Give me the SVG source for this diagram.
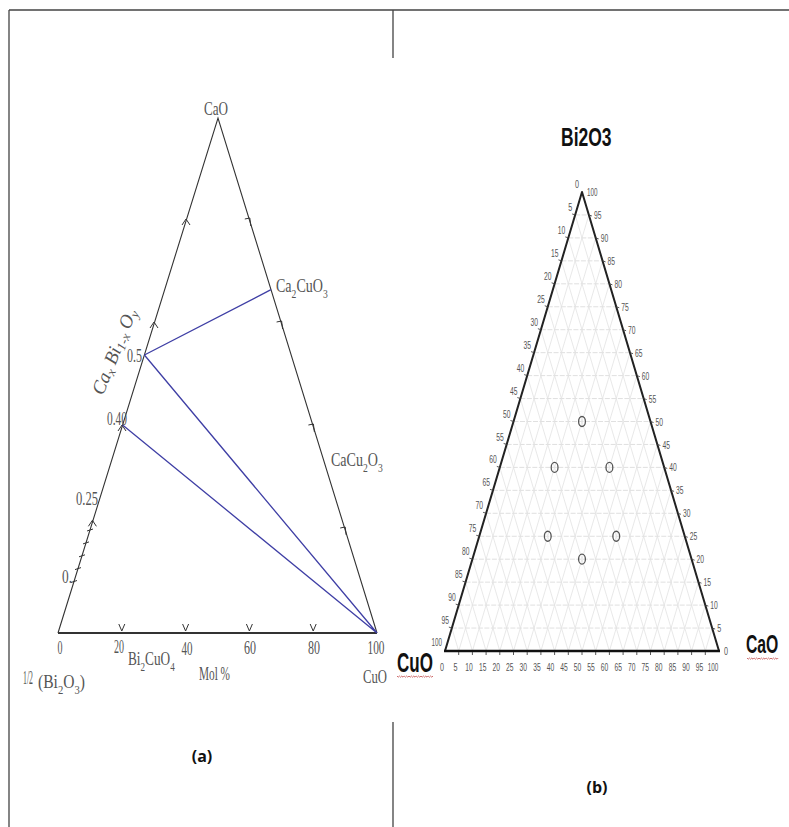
<svg xmlns="http://www.w3.org/2000/svg" width="789" height="827" viewBox="0 0 789 827">
<style>
.bd{stroke:#444;stroke-width:1.3;fill:none}
.ta{font-family:"Liberation Serif",serif;font-size:19px;fill:#555}
.tb{font-family:"Liberation Sans",Arial,sans-serif;font-size:11px;fill:#555}
.tk{stroke:#333;stroke-width:1;fill:none}
.grid{stroke:#e2e2e2;stroke-width:0.8;fill:none}
.gridh{stroke:#d8d8d8;stroke-width:0.8;fill:none;stroke-dasharray:5 1.5}
.blue{stroke:#3f3fa5;stroke-width:1.3;fill:none}
.cap{font-family:"Open Sans","Liberation Sans",sans-serif;font-size:16px;font-weight:bold;fill:#111}
.big{font-family:"Liberation Sans",Arial,sans-serif;font-weight:bold;fill:#111}
.sq{stroke:#c04848;stroke-width:0.8;fill:none}
</style>
<rect width="789" height="827" fill="#fff"/>
<g id="frame">
<path class="bd" d="M9 10 H789 M9 10 V827 M393 10 V58 M393 722 V827"/>
</g>

<g id="panel-a">
<g id="triangle-a">
<path d="M58 633 L218 118 L377 633" stroke="#333" stroke-width="1.1" fill="none"/>
<path d="M58 633 H377" stroke="#333" stroke-width="1.8" fill="none"/>
<path class="tk" d="M118.8 624 L121.8 631 L124.8 624 M182.6 624 L185.6 631 L188.6 624 M246.4 624 L249.4 631 L252.4 624 M310.2 624 L313.2 631 L316.2 624"/>
<path class="tk" d="M182 225 L186 219 L190 225 M150 328 L154 322 L158 328 M118 431 L122 425 L126 431"/>
<path class="tk" d="M244.8 219 L249.8 218 L250.8 226 M276.6 322 L281.6 321 L282.6 329 M308.4 425 L313.4 424 L314.4 432 M340.2 528 L345.2 527 L346.2 535"/>
<path class="tk" d="M71 582.5 L77 580.5 M75 569.6 L81 567.6 M79 556.8 L85 554.8 M83 543.9 L89 541.9 M87 531 L93 529 M88.4 526.3 L92.4 520.3 L96.4 526.3"/>
</g>
<g id="connectors-a">
<path class="blue" d="M144.4 355 L271 289.7 M144.4 355 L377 633 M122.6 425 L377 633"/>
</g>
<g id="labels-a">
<text class="ta" x="216" y="115" text-anchor="middle" textLength="24" lengthAdjust="spacingAndGlyphs">CaO</text>
<text class="ta" transform="translate(276,292) scale(0.74,1)">Ca<tspan font-size="13" dy="6">2</tspan><tspan dy="-6">CuO</tspan><tspan font-size="13" dy="6">3</tspan></text>
<text class="ta" transform="translate(331,466) scale(0.74,1)">CaCu<tspan font-size="13" dy="6">2</tspan><tspan dy="-6">O</tspan><tspan font-size="13" dy="6">3</tspan></text>
<text class="ta" x="127" y="362" textLength="15" lengthAdjust="spacingAndGlyphs">0.5</text>
<text class="ta" x="107" y="425" textLength="20" lengthAdjust="spacingAndGlyphs">0.40</text>
<text class="ta" x="76" y="505" textLength="22" lengthAdjust="spacingAndGlyphs">0.25</text>
<text class="ta" x="62" y="583" textLength="10" lengthAdjust="spacingAndGlyphs">0.</text>
<text class="ta" transform="translate(103,396) rotate(-68)" font-style="italic">Ca<tspan font-size="13" dy="3">x</tspan><tspan dy="-3"> Bi</tspan><tspan font-size="13" dy="3">1-x</tspan><tspan dy="-3"> O</tspan><tspan font-size="13" dy="3">y</tspan></text>
<text class="ta" x="60" y="654" text-anchor="middle" textLength="5" lengthAdjust="spacingAndGlyphs">0</text>
<text class="ta" x="119" y="653" text-anchor="middle" textLength="10" lengthAdjust="spacingAndGlyphs">20</text>
<text class="ta" transform="translate(128,665) scale(0.7,1)">Bi<tspan font-size="13" dy="6">2</tspan><tspan dy="-6">CuO</tspan><tspan font-size="13" dy="6">4</tspan></text>
<text class="ta" x="187" y="655" text-anchor="middle" textLength="11" lengthAdjust="spacingAndGlyphs">40</text>
<text class="ta" x="250" y="654" text-anchor="middle" textLength="12" lengthAdjust="spacingAndGlyphs">60</text>
<text class="ta" x="314" y="654" text-anchor="middle" textLength="12" lengthAdjust="spacingAndGlyphs">80</text>
<text class="ta" x="376" y="654" text-anchor="middle" textLength="17" lengthAdjust="spacingAndGlyphs">100</text>
<text class="ta" x="199" y="680" textLength="31" lengthAdjust="spacingAndGlyphs">Mol %</text>
<text class="ta" x="23" y="684" font-size="10" textLength="10" lengthAdjust="spacingAndGlyphs">1/2</text>
<text class="ta" transform="translate(38,688) scale(0.82,1)">(Bi<tspan font-size="13" dy="6">2</tspan><tspan dy="-6">O</tspan><tspan font-size="13" dy="6">3</tspan><tspan dy="-6">)</tspan></text>
<text class="ta" x="363" y="683" textLength="24" lengthAdjust="spacingAndGlyphs">CuO</text>
</g>
<text class="cap" x="202" y="762" text-anchor="middle">(a)</text>
</g>

<g id="panel-b">
<g id="grid-b">
<path class="gridh" d="M575.15 214.95 H588.85 M568.3 237.9 H595.7 M561.45 260.85 H602.55 M554.6 283.8 H609.4 M547.75 306.75 H616.25 M540.9 329.7 H623.1 M534.05 352.65 H629.95 M527.2 375.6 H636.8 M520.35 398.55 H643.65 M513.5 421.5 H650.5 M506.65 444.45 H657.35 M499.8 467.4 H664.2 M492.95 490.35 H671.05 M486.1 513.3 H677.9 M479.25 536.25 H684.75 M472.4 559.2 H691.6 M465.55 582.15 H698.45 M458.7 605.1 H705.3 M451.85 628.05 H712.15"/>
<path class="grid" d="M458.7 651 L588.85 214.95 M472.4 651 L595.7 237.9 M486.1 651 L602.55 260.85 M499.8 651 L609.4 283.8 M513.5 651 L616.25 306.75 M527.2 651 L623.1 329.7 M540.9 651 L629.95 352.65 M554.6 651 L636.8 375.6 M568.3 651 L643.65 398.55 M582 651 L650.5 421.5 M595.7 651 L657.35 444.45 M609.4 651 L664.2 467.4 M623.1 651 L671.05 490.35 M636.8 651 L677.9 513.3 M650.5 651 L684.75 536.25 M664.2 651 L691.6 559.2 M677.9 651 L698.45 582.15 M691.6 651 L705.3 605.1 M705.3 651 L712.15 628.05"/>
<path class="grid" d="M458.7 651 L451.85 628.05 M472.4 651 L458.7 605.1 M486.1 651 L465.55 582.15 M499.8 651 L472.4 559.2 M513.5 651 L479.25 536.25 M527.2 651 L486.1 513.3 M540.9 651 L492.95 490.35 M554.6 651 L499.8 467.4 M568.3 651 L506.65 444.45 M582 651 L513.5 421.5 M595.7 651 L520.35 398.55 M609.4 651 L527.2 375.6 M623.1 651 L534.05 352.65 M636.8 651 L540.9 329.7 M650.5 651 L547.75 306.75 M664.2 651 L554.6 283.8 M677.9 651 L561.45 260.85 M691.6 651 L568.3 237.9 M705.3 651 L575.15 214.95"/>
</g>
<g id="triangle-b">
<path d="M445 651 L582 192 L719 651" stroke="#222" stroke-width="2" fill="none" stroke-linejoin="round"/>
<path d="M444 651 H720" stroke="#111" stroke-width="2.6" fill="none"/>
<path stroke="#444" stroke-width="0.9" fill="none" d="M575.15 214.95 l-3 -1 M568.3 237.9 l-3 -1 M561.45 260.85 l-3 -1 M554.6 283.8 l-3 -1 M547.75 306.75 l-3 -1 M540.9 329.7 l-3 -1 M534.05 352.65 l-3 -1 M527.2 375.6 l-3 -1 M520.35 398.55 l-3 -1 M513.5 421.5 l-3 -1 M506.65 444.45 l-3 -1 M499.8 467.4 l-3 -1 M492.95 490.35 l-3 -1 M486.1 513.3 l-3 -1 M479.25 536.25 l-3 -1 M472.4 559.2 l-3 -1 M465.55 582.15 l-3 -1 M458.7 605.1 l-3 -1 M451.85 628.05 l-3 -1 M588.85 214.95 l3 1 M595.7 237.9 l3 1 M602.55 260.85 l3 1 M609.4 283.8 l3 1 M616.25 306.75 l3 1 M623.1 329.7 l3 1 M629.95 352.65 l3 1 M636.8 375.6 l3 1 M643.65 398.55 l3 1 M650.5 421.5 l3 1 M657.35 444.45 l3 1 M664.2 467.4 l3 1 M671.05 490.35 l3 1 M677.9 513.3 l3 1 M684.75 536.25 l3 1 M691.6 559.2 l3 1 M698.45 582.15 l3 1 M705.3 605.1 l3 1 M712.15 628.05 l3 1 M458.7 652 v3 M472.4 652 v3 M486.1 652 v3 M499.8 652 v3 M513.5 652 v3 M527.2 652 v3 M540.9 652 v3 M554.6 652 v3 M568.3 652 v3 M582 652 v3 M595.7 652 v3 M609.4 652 v3 M623.1 652 v3 M636.8 652 v3 M650.5 652 v3 M664.2 652 v3 M677.9 652 v3 M691.6 652 v3 M705.3 652 v3"/>
</g>
<g id="points-b" fill="none" stroke="#555" stroke-width="1.3">
<ellipse cx="582" cy="421.5" rx="3.4" ry="5"/>
<ellipse cx="554.6" cy="467.4" rx="3.4" ry="5"/>
<ellipse cx="609.4" cy="467.4" rx="3.4" ry="5"/>
<ellipse cx="547.75" cy="536.25" rx="3.4" ry="5"/>
<ellipse cx="616.25" cy="536.25" rx="3.4" ry="5"/>
<ellipse cx="582" cy="559.2" rx="3.4" ry="5"/>
</g>
<g id="left-axis-b" text-anchor="end">
<text class="tb" x="579" y="188" textLength="4" lengthAdjust="spacingAndGlyphs">0</text>
<text class="tb" x="572.2" y="211" textLength="4" lengthAdjust="spacingAndGlyphs">5</text>
<text class="tb" x="565.3" y="233.9" textLength="7.5" lengthAdjust="spacingAndGlyphs">10</text>
<text class="tb" x="558.5" y="256.9" textLength="7.5" lengthAdjust="spacingAndGlyphs">15</text>
<text class="tb" x="551.6" y="279.8" textLength="7.5" lengthAdjust="spacingAndGlyphs">20</text>
<text class="tb" x="544.8" y="302.8" textLength="7.5" lengthAdjust="spacingAndGlyphs">25</text>
<text class="tb" x="537.9" y="325.7" textLength="7.5" lengthAdjust="spacingAndGlyphs">30</text>
<text class="tb" x="531.1" y="348.7" textLength="7.5" lengthAdjust="spacingAndGlyphs">35</text>
<text class="tb" x="524.2" y="371.6" textLength="7.5" lengthAdjust="spacingAndGlyphs">40</text>
<text class="tb" x="517.4" y="394.6" textLength="7.5" lengthAdjust="spacingAndGlyphs">45</text>
<text class="tb" x="510.5" y="417.5" textLength="7.5" lengthAdjust="spacingAndGlyphs">50</text>
<text class="tb" x="503.7" y="440.5" textLength="7.5" lengthAdjust="spacingAndGlyphs">55</text>
<text class="tb" x="496.8" y="463.4" textLength="7.5" lengthAdjust="spacingAndGlyphs">60</text>
<text class="tb" x="490" y="486.4" textLength="7.5" lengthAdjust="spacingAndGlyphs">65</text>
<text class="tb" x="483.1" y="509.3" textLength="7.5" lengthAdjust="spacingAndGlyphs">70</text>
<text class="tb" x="476.3" y="532.3" textLength="7.5" lengthAdjust="spacingAndGlyphs">75</text>
<text class="tb" x="469.4" y="555.2" textLength="7.5" lengthAdjust="spacingAndGlyphs">80</text>
<text class="tb" x="462.6" y="578.2" textLength="7.5" lengthAdjust="spacingAndGlyphs">85</text>
<text class="tb" x="455.7" y="601.1" textLength="7.5" lengthAdjust="spacingAndGlyphs">90</text>
<text class="tb" x="448.9" y="624.1" textLength="7.5" lengthAdjust="spacingAndGlyphs">95</text>
<text class="tb" x="442" y="646" textLength="10.5" lengthAdjust="spacingAndGlyphs">100</text>
</g>
<g id="right-axis-b">
<text class="tb" x="587" y="196" textLength="10.5" lengthAdjust="spacingAndGlyphs">100</text>
<text class="tb" x="593.9" y="219" textLength="7.5" lengthAdjust="spacingAndGlyphs">95</text>
<text class="tb" x="600.7" y="241.9" textLength="7.5" lengthAdjust="spacingAndGlyphs">90</text>
<text class="tb" x="607.6" y="264.9" textLength="7.5" lengthAdjust="spacingAndGlyphs">85</text>
<text class="tb" x="614.4" y="287.8" textLength="7.5" lengthAdjust="spacingAndGlyphs">80</text>
<text class="tb" x="621.3" y="310.8" textLength="7.5" lengthAdjust="spacingAndGlyphs">75</text>
<text class="tb" x="628.1" y="333.7" textLength="7.5" lengthAdjust="spacingAndGlyphs">70</text>
<text class="tb" x="635" y="356.7" textLength="7.5" lengthAdjust="spacingAndGlyphs">65</text>
<text class="tb" x="641.8" y="379.6" textLength="7.5" lengthAdjust="spacingAndGlyphs">60</text>
<text class="tb" x="648.7" y="402.6" textLength="7.5" lengthAdjust="spacingAndGlyphs">55</text>
<text class="tb" x="655.5" y="425.5" textLength="7.5" lengthAdjust="spacingAndGlyphs">50</text>
<text class="tb" x="662.4" y="448.5" textLength="7.5" lengthAdjust="spacingAndGlyphs">45</text>
<text class="tb" x="669.2" y="471.4" textLength="7.5" lengthAdjust="spacingAndGlyphs">40</text>
<text class="tb" x="676.1" y="494.4" textLength="7.5" lengthAdjust="spacingAndGlyphs">35</text>
<text class="tb" x="682.9" y="517.3" textLength="7.5" lengthAdjust="spacingAndGlyphs">30</text>
<text class="tb" x="689.8" y="540.3" textLength="7.5" lengthAdjust="spacingAndGlyphs">25</text>
<text class="tb" x="696.6" y="563.2" textLength="7.5" lengthAdjust="spacingAndGlyphs">20</text>
<text class="tb" x="703.5" y="586.2" textLength="7.5" lengthAdjust="spacingAndGlyphs">15</text>
<text class="tb" x="710.3" y="609.1" textLength="7.5" lengthAdjust="spacingAndGlyphs">10</text>
<text class="tb" x="717.2" y="632.1" textLength="4" lengthAdjust="spacingAndGlyphs">5</text>
<text class="tb" x="724" y="655" textLength="4" lengthAdjust="spacingAndGlyphs">0</text>
</g>
<g id="bottom-axis-b" text-anchor="middle">
<text class="tb" x="442" y="671" textLength="4" lengthAdjust="spacingAndGlyphs">0</text>
<text class="tb" x="455.6" y="671" textLength="4" lengthAdjust="spacingAndGlyphs">5</text>
<text class="tb" x="469.1" y="671" textLength="7.5" lengthAdjust="spacingAndGlyphs">10</text>
<text class="tb" x="482.7" y="671" textLength="7.5" lengthAdjust="spacingAndGlyphs">15</text>
<text class="tb" x="496.2" y="671" textLength="7.5" lengthAdjust="spacingAndGlyphs">20</text>
<text class="tb" x="509.8" y="671" textLength="7.5" lengthAdjust="spacingAndGlyphs">25</text>
<text class="tb" x="523.3" y="671" textLength="7.5" lengthAdjust="spacingAndGlyphs">30</text>
<text class="tb" x="536.9" y="671" textLength="7.5" lengthAdjust="spacingAndGlyphs">35</text>
<text class="tb" x="550.4" y="671" textLength="7.5" lengthAdjust="spacingAndGlyphs">40</text>
<text class="tb" x="564" y="671" textLength="7.5" lengthAdjust="spacingAndGlyphs">45</text>
<text class="tb" x="577.5" y="671" textLength="7.5" lengthAdjust="spacingAndGlyphs">50</text>
<text class="tb" x="591.1" y="671" textLength="7.5" lengthAdjust="spacingAndGlyphs">55</text>
<text class="tb" x="604.6" y="671" textLength="7.5" lengthAdjust="spacingAndGlyphs">60</text>
<text class="tb" x="618.2" y="671" textLength="7.5" lengthAdjust="spacingAndGlyphs">65</text>
<text class="tb" x="631.7" y="671" textLength="7.5" lengthAdjust="spacingAndGlyphs">70</text>
<text class="tb" x="645.3" y="671" textLength="7.5" lengthAdjust="spacingAndGlyphs">75</text>
<text class="tb" x="658.8" y="671" textLength="7.5" lengthAdjust="spacingAndGlyphs">80</text>
<text class="tb" x="672.4" y="671" textLength="7.5" lengthAdjust="spacingAndGlyphs">85</text>
<text class="tb" x="685.9" y="671" textLength="7.5" lengthAdjust="spacingAndGlyphs">90</text>
<text class="tb" x="699.5" y="671" textLength="7.5" lengthAdjust="spacingAndGlyphs">95</text>
<text class="tb" x="713" y="671" textLength="10.5" lengthAdjust="spacingAndGlyphs">100</text>
</g>
<g id="vertex-labels-b">
<text class="big" transform="translate(561,146) scale(0.7,1)" font-size="25">Bi2O3</text>
<text class="big" transform="translate(397,672) scale(0.63,1)" font-size="27">CuO</text>
<path class="sq" d="M397 676 l1.2 1.2 l1.2 -1.2 l1.2 1.2 l1.2 -1.2 l1.2 1.2 l1.2 -1.2 l1.2 1.2 l1.2 -1.2 l1.2 1.2 l1.2 -1.2 l1.2 1.2 l1.2 -1.2 l1.2 1.2 l1.2 -1.2 l1.2 1.2 l1.2 -1.2 l1.2 1.2 l1.2 -1.2 l1.2 1.2 l1.2 -1.2 l1.2 1.2 l1.2 -1.2 l1.2 1.2 l1.2 -1.2 l1.2 1.2 l1.2 -1.2 l1.2 1.2 l1.2 -1.2 l1.2 1.2 l1.2 -1.2"/>
<text class="big" transform="translate(746,653) scale(0.63,1)" font-size="25">CaO</text>
<path class="sq" d="M747 658 l1.2 1.2 l1.2 -1.2 l1.2 1.2 l1.2 -1.2 l1.2 1.2 l1.2 -1.2 l1.2 1.2 l1.2 -1.2 l1.2 1.2 l1.2 -1.2 l1.2 1.2 l1.2 -1.2 l1.2 1.2 l1.2 -1.2 l1.2 1.2 l1.2 -1.2 l1.2 1.2 l1.2 -1.2 l1.2 1.2 l1.2 -1.2 l1.2 1.2 l1.2 -1.2 l1.2 1.2 l1.2 -1.2 l1.2 1.2 l1.2 -1.2"/>
</g>
<text class="cap" x="597" y="793" text-anchor="middle">(b)</text>
</g>
</svg>
